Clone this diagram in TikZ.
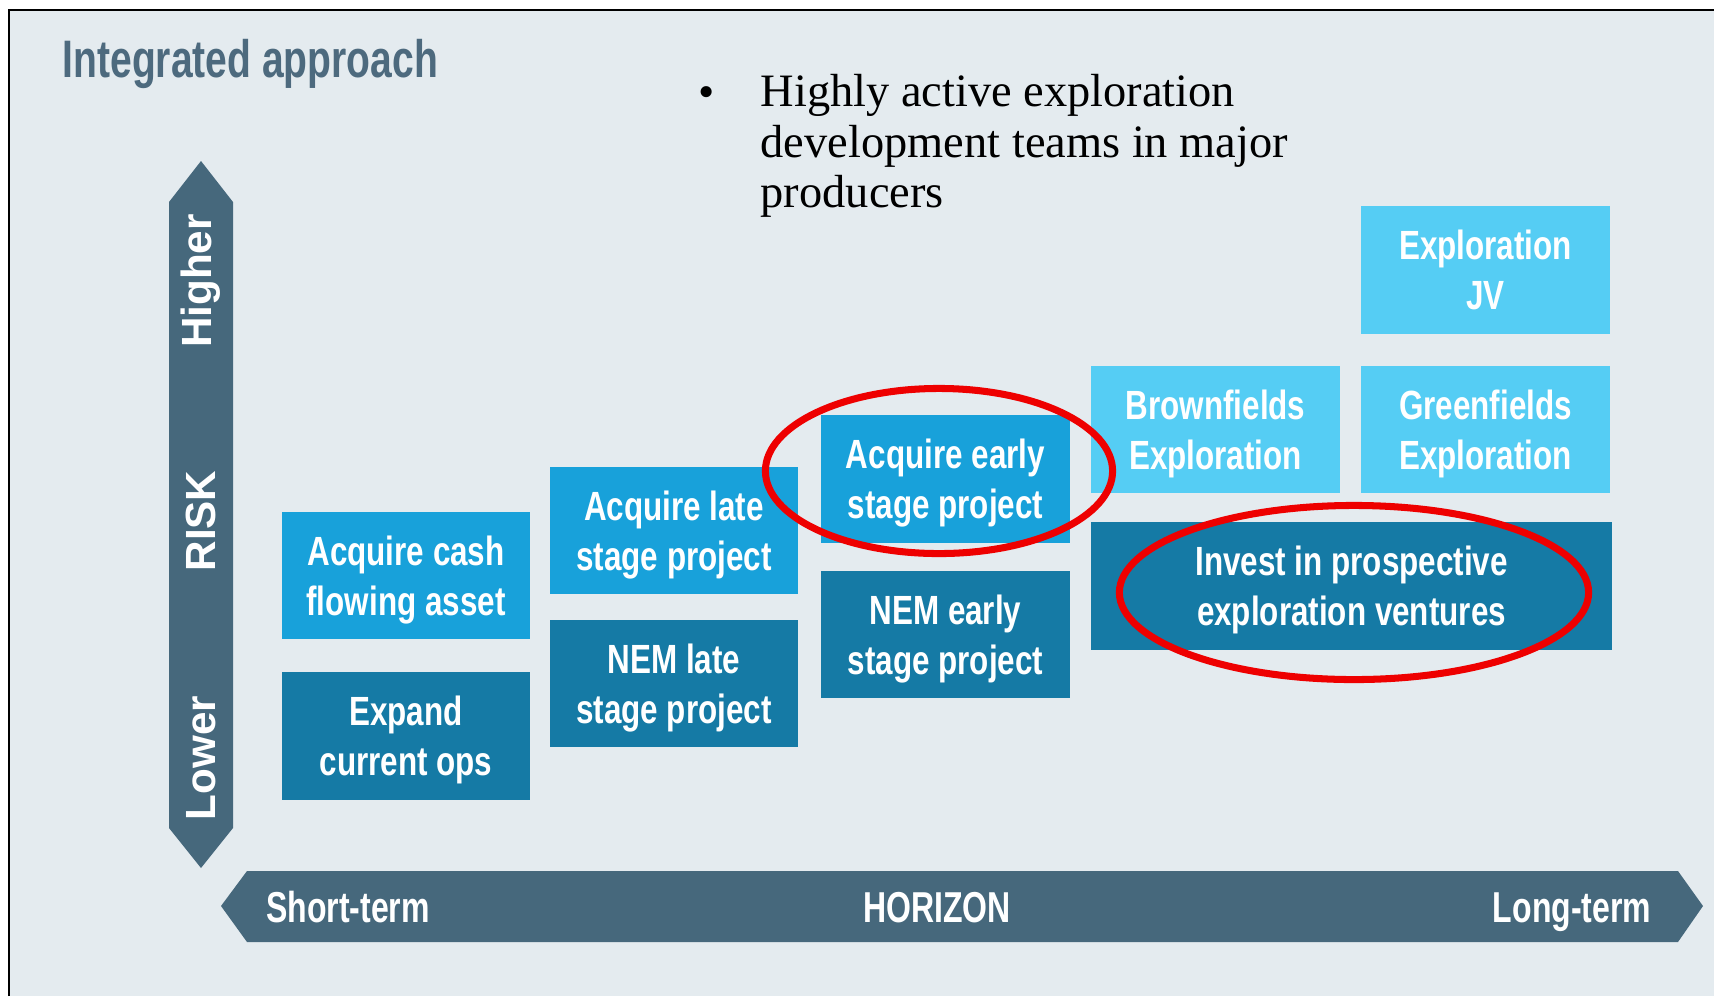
\documentclass[tikz,border=0pt]{standalone}
\usepackage{fontspec}
\setmainfont{Liberation Serif}
\newfontfamily\boxfont[FakeStretch=0.77]{Liberation Sans}
\newfontfamily\headfont[FakeStretch=0.74]{Liberation Sans}
\newfontfamily\axisfont{Liberation Sans}
\usetikzlibrary{
    shapes.geometric
}
\definecolor{panelbg}{RGB}{228,235,239}
\definecolor{titlegray}{RGB}{77,106,126}
\definecolor{axisblue}{RGB}{70,104,124}
\definecolor{boxlight}{RGB}{85,205,244}
\definecolor{boxmid}{RGB}{24,161,218}
\definecolor{boxdark}{RGB}{21,122,165}
\definecolor{ringred}{RGB}{238,0,0}
\tikzset{
    % Text styles
    title text/.style={
        text=titlegray,
        inner sep=0pt,
        font=\headfont\bfseries\fontsize{15}{18}\selectfont
    },
    note text/.style={
        inner sep=0pt,
        font=\fontsize{13.2}{14.3}\selectfont
    },
    risk label/.style={
        text=white,
        rotate=90,
        inner sep=0pt,
        font=\axisfont\bfseries\fontsize{12}{14}\selectfont
    },
    horizon label/.style={
        text=white,
        anchor=base,
        inner sep=0pt,
        font=\headfont\bfseries\fontsize{12.3}{14}\selectfont
    },
    % Box styles
    option box/.style={
        fill=#1,
        text=white,
        rectangle,
        inner sep=0pt,
        text depth=0pt,
        minimum width=2.48cm,
        minimum height=1.27cm,
        align=center,
        font=\boxfont\bfseries\fontsize{11.6}{14.2}\selectfont
    },
    % Highlight rings
    ring/.style={
        draw=ringred,
        ellipse,
        line width=2pt,
        inner sep=0pt
    }
}

\begin{document}
\begin{tikzpicture}[x=0.01cm, y=-0.01cm]
    % Panel
    \useasboundingbox (0,0) rectangle (1714,996);
    \fill[white] (0,0) rectangle (1714,996);
    \fill[panelbg] (9,10) rectangle (1714,996);
    \draw[line width=0.7pt] (9,996) -- (9,10) -- (1714,10);

    % Heading and note
    \node[title text, anchor=base west] (title) at (62,77) {Integrated approach};
    \node[note text, anchor=base] (dot) at (707,107) {\textbullet};
    \node[note text, anchor=north west, align=left] (note) at (760,74)
        {Highly active exploration\\development teams in major\\producers};

    % Axes
    \fill[axisblue] (169,202) -- (201,161) -- (233,202) -- (233,828)
        -- (201,868) -- (169,828) -- cycle;
    \fill[axisblue] (221,906) -- (247,871) -- (1678,871) -- (1703,906)
        -- (1678,942) -- (247,942) -- cycle;

    \foreach \y/\id/\name in {281/higher/Higher,521/risk/RISK,758/lower/Lower} {
        \node[risk label] (\id) at (201,\y) {\name};
    }
    \foreach \x/\id/\name in {348/short/Short-term,937/horizon/HORIZON,1572/long/Long-term} {
        \node[horizon label] (\id) at (\x,922) {\name};
    }

    % Options
    \foreach \x/\y/\tone/\id/\name in {
        406/575.5/boxmid/cash/{Acquire cash\\flowing asset},
        406/736/boxdark/expand/{Expand\\current ops},
        674/530.5/boxmid/lateacq/{Acquire late\\stage project},
        674/683.5/boxdark/latenem/{NEM late\\stage project},
        945.5/479/boxmid/earlyacq/{Acquire early\\stage project},
        945.5/634.5/boxdark/earlynem/{NEM early\\stage project},
        1215.5/429.5/boxlight/brown/{Brownfields\\Exploration},
        1485.5/429.5/boxlight/green/{Greenfields\\Exploration},
        1485.5/270/boxlight/jv/{Exploration\\JV}} {
        \node[option box=\tone] (\id) at (\x,\y) {\name};
    }
    \node[option box=boxdark, minimum width=5.21cm] (invest) at (1351.5,586)
        {Invest in prospective\\exploration ventures};

    % Highlights
    \node[ring, minimum width=3.47cm, minimum height=1.65cm] (ring1) at (939,471) {};
    \node[ring, minimum width=4.69cm, minimum height=1.74cm] (ring2) at (1354,592.5) {};
\end{tikzpicture}
\end{document}
